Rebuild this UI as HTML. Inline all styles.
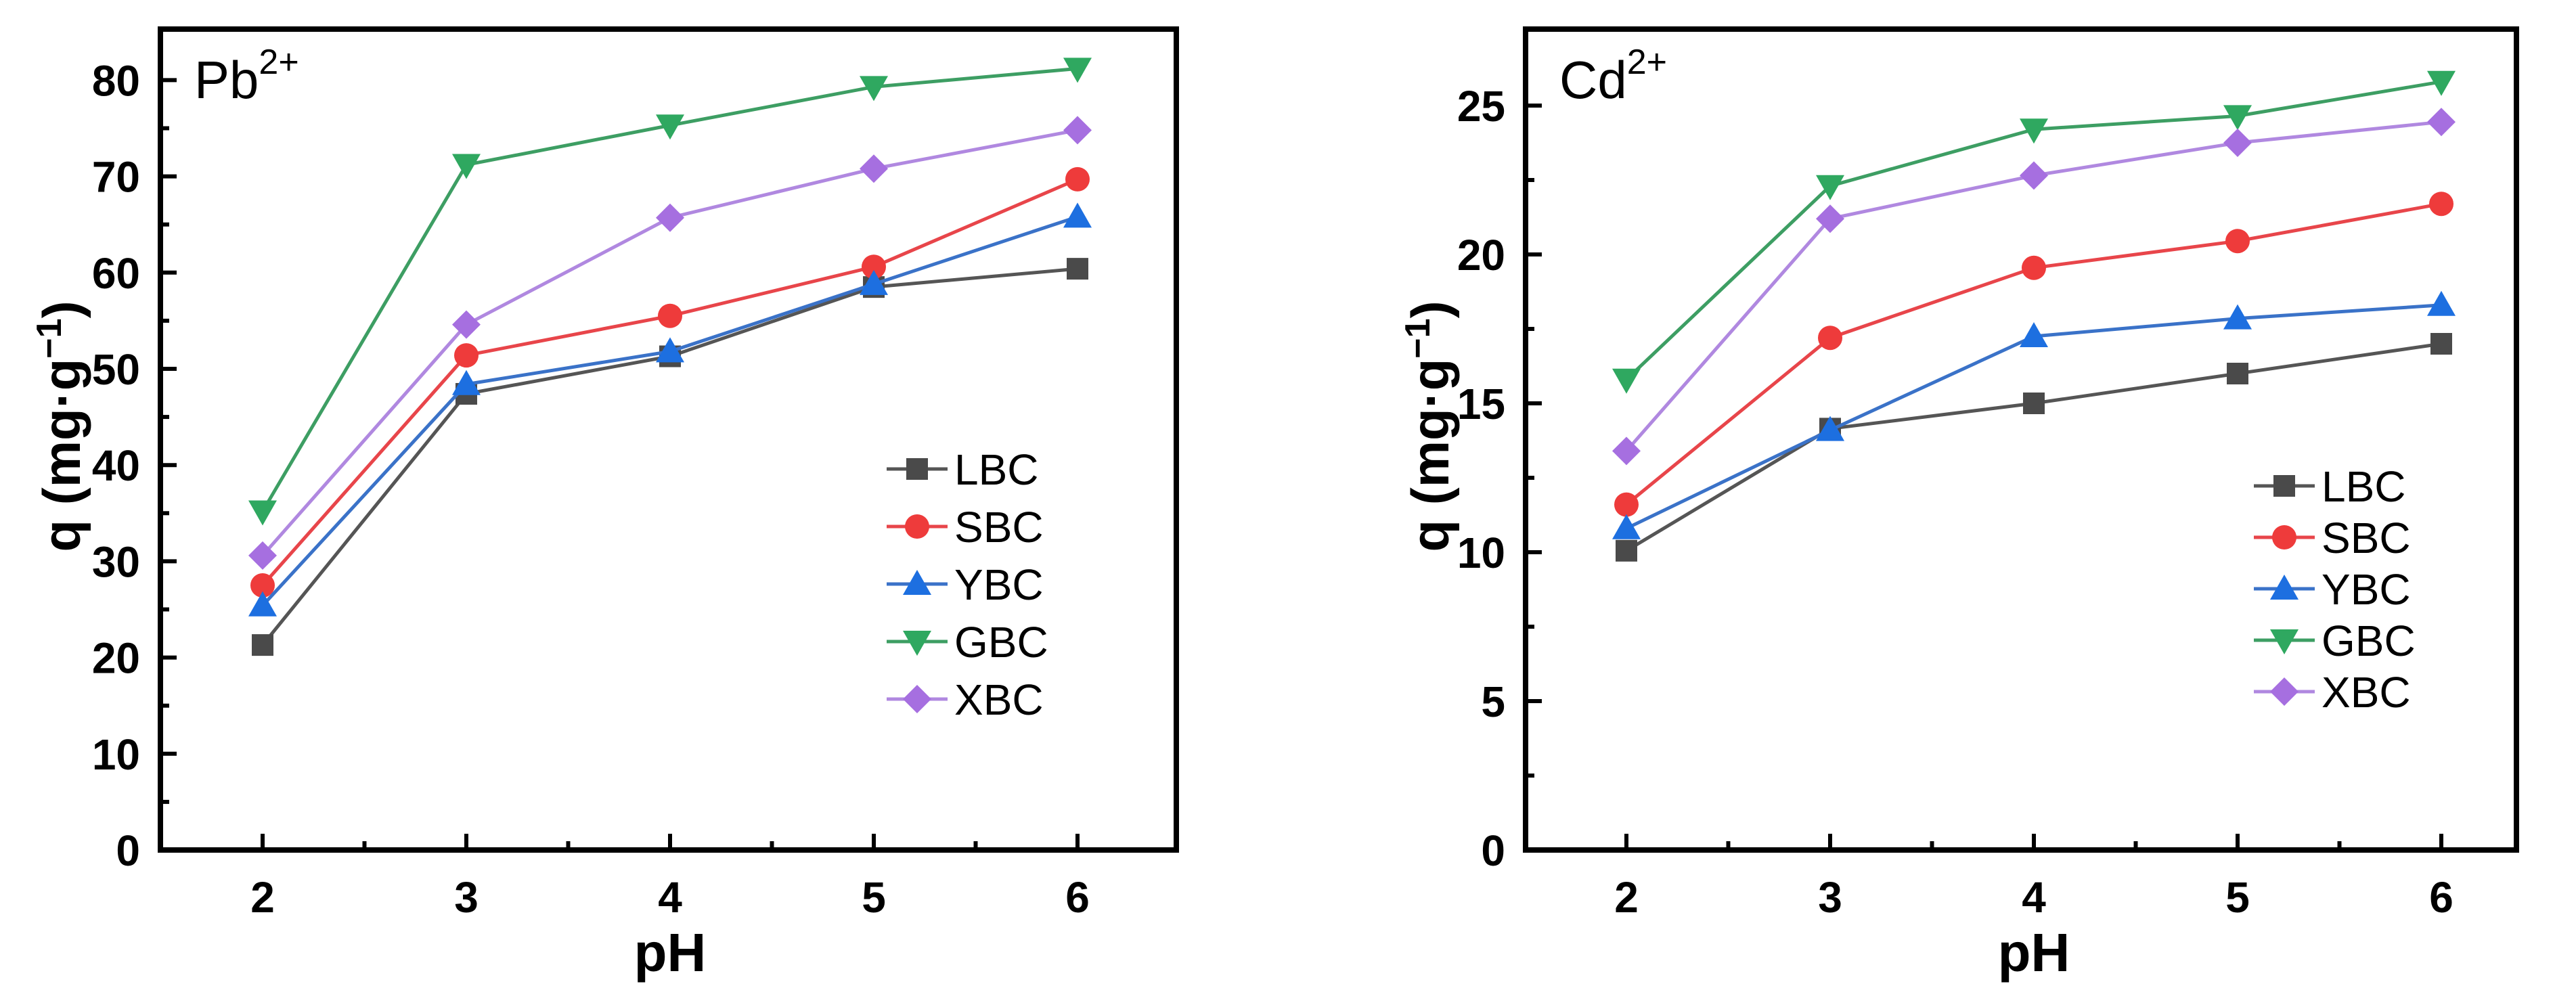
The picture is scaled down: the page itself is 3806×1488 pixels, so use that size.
<!DOCTYPE html>
<html><head><meta charset="utf-8"><style>
html,body{margin:0;padding:0;background:#fff;}
svg{display:block;}
text{font-family:"Liberation Sans",sans-serif;}
.tick{font-weight:bold;font-size:64px;}
</style></head><body>
<svg id="fig" width="3806" height="1488" viewBox="0 0 3806 1488" xmlns="http://www.w3.org/2000/svg"></svg>
<script>
const phValues = [2, 3, 4, 5, 6];
const seriesNames = ["LBC", "SBC", "YBC", "GBC", "XBC"];
const pbLBC = [21.3, 47.4, 51.3, 58.5, 60.4];
const pbSBC = [27.5, 51.4, 55.5, 60.6, 69.7];
const pbYBC = [25.4, 48.4, 51.8, 58.8, 65.8];
const pbGBC = [35.2, 71.2, 75.3, 79.3, 81.2];
const pbXBC = [30.6, 54.6, 65.7, 70.8, 74.8];
const cdLBC = [10.05, 14.15, 15.0, 16.0, 17.0];
const cdSBC = [11.6, 17.2, 19.55, 20.45, 21.7];
const cdYBC = [10.8, 14.1, 17.25, 17.85, 18.3];
const cdGBC = [15.8, 22.3, 24.2, 24.65, 25.8];
const cdXBC = [13.4, 21.2, 22.65, 23.75, 24.45];
const pbYTicks = [0, 10, 20, 30, 40, 50, 60, 70, 80];
const cdYTicks = [0, 5, 10, 15, 20, 25];
const xTicks = [2, 3, 4, 5, 6];

const NS = "http://www.w3.org/2000/svg";
const svg = document.getElementById("fig");
const colors = {LBC:["#555555","#4a4a4a"], SBC:["#e8454a","#ee3b3b"], YBC:["#3a72c8","#1d6fe0"], GBC:["#3d9e63","#2fa860"], XBC:["#b088e0","#a66fe0"]};
const markers = {LBC:"square", SBC:"circle", YBC:"up", GBC:"down", XBC:"diamond"};

function el(tag, attrs, parent) {
  const e = document.createElementNS(NS, tag);
  for (const k in attrs) e.setAttribute(k, attrs[k]);
  (parent || svg).appendChild(e);
  return e;
}
function drawMarker(type, x, y, color, g) {
  const s = 16;
  let m;
  if (type === "square") m = el("rect", {x: x - s, y: y - s, width: 2 * s, height: 2 * s, fill: color}, g);
  else if (type === "circle") m = el("circle", {cx: x, cy: y, r: s + 2, fill: color}, g);
  else if (type === "up") m = el("polygon", {points: `${x},${y - s - 5} ${x - s - 5},${y + s} ${x + s + 5},${y + s}`, fill: color}, g);
  else if (type === "down") m = el("polygon", {points: `${x},${y + s + 5} ${x - s - 5},${y - s} ${x + s + 5},${y - s}`, fill: color}, g);
  else m = el("polygon", {points: `${x},${y - s - 5} ${x + s + 5},${y} ${x},${y + s + 5} ${x - s - 5},${y}`, fill: color}, g);
  return m;
}

function panel(cfg) {
  const {L, R, T, B, x0, xStep, yMax, yTicks, yMinor, data, label, legX, legY, legStep, name, titleX} = cfg;
  const g = el("g", {});
  
  
  const xs = v => x0 + (v - 2) * xStep;
  const ys = v => B - v * cfg.yPx;
  seriesNames.forEach((n, i) => {
    const vals = data[i];
    const sg = el("g", {}, g);
    
    
    const pts = phValues.map((p, j) => xs(p) + "," + ys(vals[j])).join(" ");
    const line = el("polyline", {points: pts, fill: "none", stroke: colors[n][0], "stroke-width": 5}, sg);
    
    
    phValues.forEach((p, j) => {
      const m = drawMarker(markers[n], xs(p), ys(vals[j]), colors[n][1], sg);
      
      
    });
  });
  const fr = el("rect", {x: L, y: T, width: R - L, height: B - T, fill: "none", stroke: "#000", "stroke-width": 8}, g);
  
  
  xTicks.forEach(t => {
    el("line", {x1: xs(t), x2: xs(t), y1: B, y2: B - 24, stroke: "#000", "stroke-width": 6}, g);
    const tx = el("text", {x: xs(t), y: B + 92, "text-anchor": "middle", class: "tick"}, g);
    tx.textContent = t;
    
    
    if (t < 6) el("line", {x1: xs(t + 0.5), x2: xs(t + 0.5), y1: B, y2: B - 13, stroke: "#000", "stroke-width": 6}, g);
  });
  yTicks.forEach(t => {
    el("line", {x1: L, x2: L + 24, y1: ys(t), y2: ys(t), stroke: "#000", "stroke-width": 6}, g);
    const tx = el("text", {x: L - 30, y: ys(t) + 23, "text-anchor": "end", class: "tick"}, g);
    tx.textContent = t;
    
    
    if (t + yMinor < yMax) el("line", {x1: L, x2: L + 13, y1: ys(t + yMinor), y2: ys(t + yMinor), stroke: "#000", "stroke-width": 6}, g);
  });
  const xt = el("text", {x: (x0 + xs(6)) / 2, y: 1435, "text-anchor": "middle", "font-weight": "bold", "font-size": 80}, g);
  xt.textContent = "pH";
  
  
  const yt = el("text", {x: 0, y: 0, "text-anchor": "middle", "font-weight": "bold", "font-size": 78, transform: `translate(${titleX},630) rotate(-90)`}, g);
  yt.innerHTML = 'q (mg·g<tspan dy="-28" font-size="52">−1</tspan><tspan dy="28">)</tspan>';
  
  
  const pl = el("text", {x: L + 50, y: 145, "font-size": 78}, g);
  pl.innerHTML = label + '<tspan dy="-36" font-size="52">2+</tspan>';
  
  
  const lg = el("g", {}, g);
  
  
  seriesNames.forEach((n, i) => {
    const y = legY + i * legStep;
    const eg = el("g", {}, lg);
    
    
    el("line", {x1: legX - 45, x2: legX + 45, y1: y, y2: y, stroke: colors[n][0], "stroke-width": 5}, eg);
    drawMarker(markers[n], legX, y, colors[n][1], eg);
    const t = el("text", {x: legX + 55, y: y + 23, "font-size": 64}, eg);
    t.textContent = n;
  });
}

panel({name: "pb-panel", L: 237, R: 1738, T: 43, B: 1256, x0: 388, xStep: 301, yPx: 14.22, yMax: 85,
  yTicks: pbYTicks, yMinor: 5, data: [pbLBC, pbSBC, pbYBC, pbGBC, pbXBC], label: "Pb",
  legX: 1355, legY: 693, legStep: 85, titleX: 118});
panel({name: "cd-panel", L: 2254, R: 3718, T: 43, B: 1256, x0: 2403, xStep: 301, yPx: 44.0, yMax: 27.5,
  yTicks: cdYTicks, yMinor: 2.5, data: [cdLBC, cdSBC, cdYBC, cdGBC, cdXBC], label: "Cd",
  legX: 3375, legY: 718, legStep: 76, titleX: 2140});
</script>
</body></html>
